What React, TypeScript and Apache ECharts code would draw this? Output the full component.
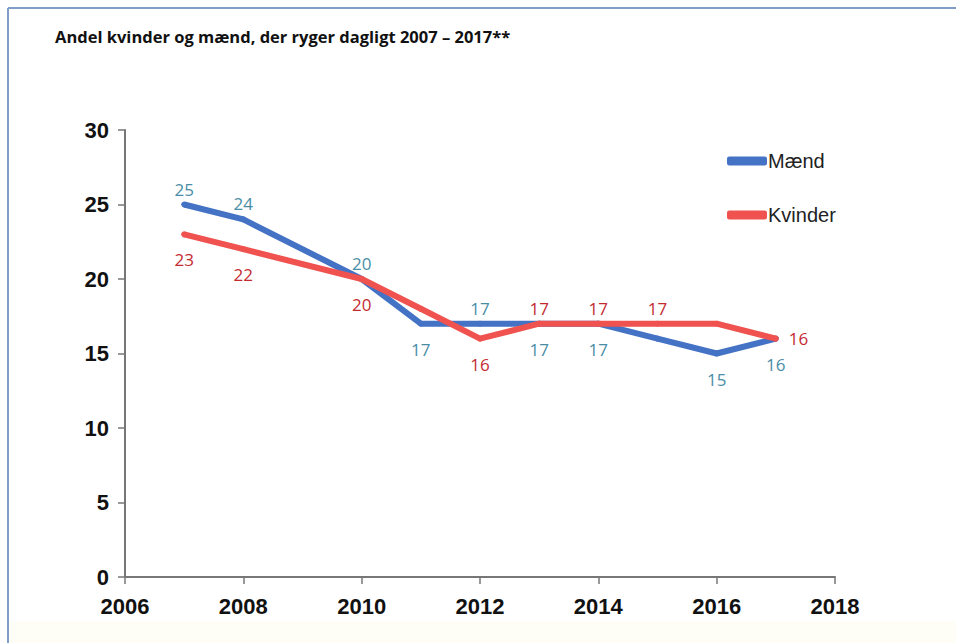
import React, { useEffect, useRef } from "react";
import * as echarts from "echarts";

const years = [2007, 2008, 2010, 2011, 2012, 2013, 2014, 2015, 2016, 2017];
const maend = [25, 24, 20, 17, 17, 17, 17, 16, 15, 16];
const kvinder = [23, 22, 20, 18, 16, 17, 17, 17, 17, 16];
// label placement per point ("" = no label)
const maendLabelPos = ["top", "top", "top", "bottom", "top", "bottom", "bottom", "", "bottom", "bottom"];
const kvinderLabelPos = ["bottom", "bottom", "bottom", "", "bottom", "top", "top", "top", "", "right"];
const title = "Andel kvinder og mænd, der ryger dagligt 2007 – 2017**";

const BLUE = "#4472C4";
const RED = "#F0524F";
const BLUE_LABEL = "#4A8DA6";
const RED_LABEL = "#C42A30";

function buildData(vals: number[], pos: string[], color: string) {
  return vals.map((v, i) => {
    const p = pos[i];
    return {
      value: [years[i], v],
      label: p
        ? {
            show: true,
            position: p as any,
            distance: p === "right" ? 10 : p === "bottom" ? 14 : 4,
            color,
          }
        : { show: false },
    };
  });
}

export default function App() {
  const ref = useRef<HTMLDivElement>(null);
  useEffect(() => {
    document.body.style.margin = "0";
    if (!ref.current) return;
    const chart = echarts.init(ref.current, null, { renderer: "svg" });
    const labelFont = {
      fontFamily: "'Open Sans', 'Liberation Sans', sans-serif",
      fontSize: 17,
    };
    const axisFont = {
      color: "#111",
      fontWeight: "bold",
      fontSize: 22,
      fontFamily: "'Liberation Sans', Arial, sans-serif",
    };
    chart.setOption({
      animation: false,
      backgroundColor: "#ffffff",
      graphic: [
        {
          type: "rect",
          shape: { x: 9, y: 621, width: 947, height: 22 },
          style: { fill: "#FFFEF6" },
          silent: true,
        },
        {
          type: "line",
          shape: { x1: 8, y1: 8, x2: 956, y2: 8 },
          style: { stroke: "#7F9DC6", lineWidth: 2 },
          silent: true,
        },
        {
          type: "line",
          shape: { x1: 8, y1: 8, x2: 8, y2: 643 },
          style: { stroke: "#7F9DC6", lineWidth: 2 },
          silent: true,
        },
        {
          type: "text",
          left: 55,
          top: 28,
          style: {
            text: title,
            fill: "#111",
            font: "bold 16.5px 'Open Sans', sans-serif",
          },
        },
      ],
      legend: {
        orient: "vertical",
        left: 722,
        top: 146,
        itemGap: 34,
        itemWidth: 40,
        itemHeight: 9,
        icon: "roundRect",
        textStyle: {
          fontFamily: "'Liberation Sans', Arial, sans-serif",
          fontSize: 20,
          color: "#222",
          padding: [0, 0, 0, -4],
        },
        data: ["Mænd", "Kvinder"],
      },
      grid: { left: 125, right: 121, top: 130, bottom: 66 },
      xAxis: {
        type: "value",
        min: 2006,
        max: 2018,
        interval: 2,
        splitLine: { show: false },
        axisLine: { show: true, lineStyle: { color: "#777", width: 2 } },
        axisTick: { show: true, length: 7, lineStyle: { color: "#777", width: 1.5 } },
        axisLabel: {
          ...axisFont,
          margin: 18,
          formatter: (v: number) => String(v),
        },
      },
      yAxis: {
        type: "value",
        min: 0,
        max: 30,
        interval: 5,
        splitLine: { show: false },
        axisLine: { show: true, lineStyle: { color: "#777", width: 2 } },
        axisTick: { show: true, length: 7, lineStyle: { color: "#777", width: 1.5 } },
        axisLabel: {
          ...axisFont,
          margin: 16,
        },
      },
      series: [
        {
          name: "Mænd",
          type: "line",
          data: buildData(maend, maendLabelPos, BLUE_LABEL),
          symbol: "circle",
          symbolSize: 6,
          lineStyle: { color: BLUE, width: 6 },
          itemStyle: { color: BLUE },
          label: labelFont,
          z: 2,
        },
        {
          name: "Kvinder",
          type: "line",
          data: buildData(kvinder, kvinderLabelPos, RED_LABEL),
          symbol: "circle",
          symbolSize: 6,
          lineStyle: { color: RED, width: 6 },
          itemStyle: { color: RED },
          label: labelFont,
          z: 3,
        },
      ],
    });
    return () => chart.dispose();
  }, []);
  return <div ref={ref} style={{ width: 956, height: 643 }} />;
}
